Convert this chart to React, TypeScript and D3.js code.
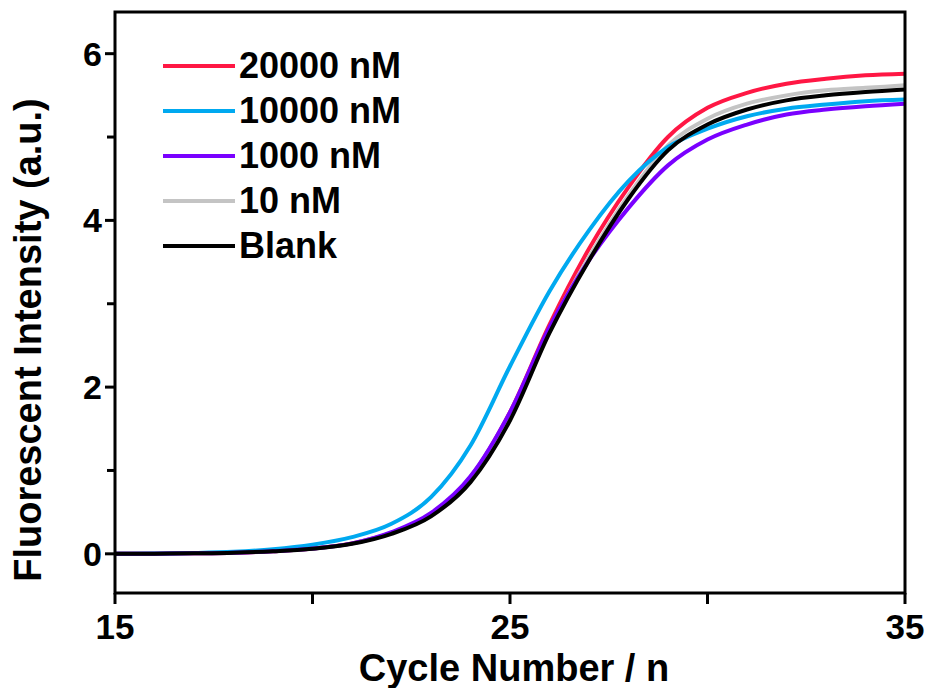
import React, { useEffect } from "react";
import { scaleLinear, line, curveMonotoneX } from "d3";

// cycle numbers and fluorescence readings per sample
const cycles = [15, 16, 17, 18, 19, 20, 21, 22, 23, 24, 25, 26, 27, 28, 29, 30, 31, 32, 33, 34, 35];

const red20000 = [0, 0.002, 0.006, 0.013, 0.031, 0.063, 0.125, 0.25, 0.48, 0.92, 1.7, 2.75, 3.66, 4.4, 5.0, 5.35, 5.53, 5.64, 5.7, 5.74, 5.76];
const blue10000 = [0, 0.003, 0.01, 0.024, 0.055, 0.11, 0.2, 0.36, 0.68, 1.3, 2.25, 3.15, 3.88, 4.47, 4.88, 5.1, 5.25, 5.34, 5.39, 5.43, 5.45];
const purple1000 = [0, 0.002, 0.006, 0.013, 0.031, 0.063, 0.125, 0.26, 0.49, 0.93, 1.7, 2.72, 3.52, 4.15, 4.66, 4.97, 5.15, 5.27, 5.33, 5.37, 5.4];
const gray10 = [0, 0.002, 0.006, 0.013, 0.03, 0.061, 0.122, 0.25, 0.47, 0.9, 1.65, 2.7, 3.56, 4.3, 4.9, 5.22, 5.4, 5.5, 5.56, 5.59, 5.62];
const blank = [0, 0.002, 0.006, 0.013, 0.03, 0.06, 0.12, 0.24, 0.45, 0.86, 1.6, 2.65, 3.52, 4.26, 4.84, 5.15, 5.33, 5.44, 5.5, 5.54, 5.57];

const legendLabels = ["20000 nM", "10000 nM", "1000 nM", "10 nM", "Blank"];
const legendColors = ["#ff1744", "#00a9f0", "#7a00ff", "#c4c4c4", "#000000"];

const xMajorTicks = [15, 25, 35];
const xAllTicks = [15, 20, 25, 30, 35];
const yMajorTicks = [0, 2, 4, 6];
const yMinorTicks = [1, 3, 5];

const FONT = "'Liberation Sans', Arial, sans-serif";

export default function App() {
  useEffect(() => {
    document.body.style.margin = "0";
  }, []);

  const width = 933;
  const height = 688;
  const margin = { top: 12, right: 28, bottom: 95, left: 115 };
  const innerWidth = width - margin.left - margin.right;
  const innerHeight = height - margin.top - margin.bottom;

  const xScale = scaleLinear().domain([15, 35]).range([0, innerWidth]);
  const yScale = scaleLinear().domain([-0.47, 6.5]).range([innerHeight, 0]);

  const path = line()
    .x((d) => xScale(d[0]))
    .y((d) => yScale(d[1]))
    .curve(curveMonotoneX);

  // draw order: red under the others, black on top
  const series = [
    { values: red20000, color: legendColors[0] },
    { values: gray10, color: legendColors[3] },
    { values: blue10000, color: legendColors[1] },
    { values: purple1000, color: legendColors[2] },
    { values: blank, color: legendColors[4] },
  ];

  return (
    <svg width={width} height={height} style={{ display: "block", background: "white" }}>
      <g transform={`translate(${margin.left},${margin.top})`}>
        <defs>
          <clipPath id="plot">
            <rect x={0} y={0} width={innerWidth} height={innerHeight} />
          </clipPath>
        </defs>
        <g clipPath="url(#plot)">
          {series.map((s, i) => (
            <path
              key={i}
              d={path(cycles.map((c, j) => [c, s.values[j]]))}
              fill="none"
              stroke={s.color}
              strokeWidth={4}
              strokeLinejoin="round"
            />
          ))}
        </g>

        {/* frame */}
        <rect x={0} y={0} width={innerWidth} height={innerHeight} fill="none" stroke="black" strokeWidth={3} />

        {/* x ticks */}
        {xAllTicks.map((t) => (
          <line key={t} x1={xScale(t)} x2={xScale(t)} y1={innerHeight} y2={innerHeight + 11} stroke="black" strokeWidth={3} />
        ))}
        {xMajorTicks.map((t) => (
          <text
            key={t}
            x={xScale(t)}
            y={innerHeight + 46}
            textAnchor="middle"
            fontFamily={FONT}
            fontWeight="bold"
            fontSize={35}
          >
            {t}
          </text>
        ))}

        {/* y ticks */}
        {yMajorTicks.map((t) => (
          <line key={t} x1={-10} x2={0} y1={yScale(t)} y2={yScale(t)} stroke="black" strokeWidth={3} />
        ))}
        {yMinorTicks.map((t) => (
          <line key={t} x1={-8} x2={0} y1={yScale(t)} y2={yScale(t)} stroke="black" strokeWidth={3} />
        ))}
        {yMajorTicks.map((t) => (
          <text
            key={t}
            x={-13}
            y={yScale(t) + 12}
            textAnchor="end"
            fontFamily={FONT}
            fontWeight="bold"
            fontSize={34}
          >
            {t}
          </text>
        ))}

        {/* legend */}
        {legendLabels.map((label, i) => (
          <g key={label} transform={`translate(48,${54 + i * 45})`}>
            <line x1={0} x2={72} y1={0} y2={0} stroke={legendColors[i]} strokeWidth={4} />
            <text x={76} y={12} fontFamily={FONT} fontWeight="bold" fontSize={36}>
              {label}
            </text>
          </g>
        ))}
      </g>

      {/* axis titles */}
      <text x={514} y={681} textAnchor="middle" fontFamily={FONT} fontWeight="bold" fontSize={38}>
        Cycle Number / n
      </text>
      <text
        transform="translate(41,340) rotate(-90)"
        textAnchor="middle"
        fontFamily={FONT}
        fontWeight="bold"
        fontSize={38}
      >
        Fluorescent Intensity (a.u.)
      </text>
    </svg>
  );
}
